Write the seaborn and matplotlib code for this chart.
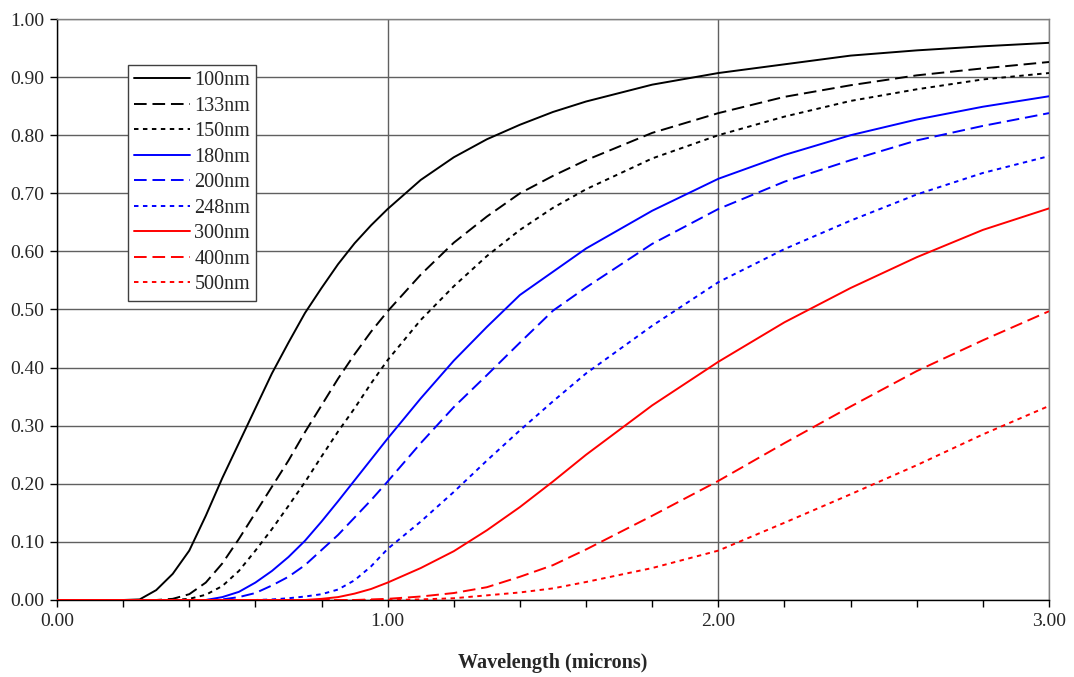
import numpy as np
import pandas as pd
import matplotlib
matplotlib.use("Agg")
import matplotlib.pyplot as plt
from matplotlib.ticker import MultipleLocator, FormatStrFormatter
import seaborn as sns

# wavelength (microns)
x = [0.0, 0.1, 0.2, 0.25, 0.3, 0.35, 0.4, 0.45, 0.5, 0.55, 0.6, 0.65, 0.7, 0.75, 0.8, 0.85, 0.9, 0.95, 1.0,
     1.1, 1.2, 1.3, 1.4, 1.5, 1.6, 1.8, 2.0, 2.2, 2.4, 2.6, 2.8, 3.0]

s100 = [0, 0, 0, 0.001, 0.017, 0.045, 0.085, 0.145, 0.21, 0.27, 0.33, 0.39, 0.443, 0.494, 0.537, 0.578, 0.614, 0.645, 0.673,
        0.723, 0.762, 0.793, 0.818, 0.84, 0.858, 0.887, 0.907, 0.922, 0.937, 0.946, 0.953, 0.959]
s133 = [0, 0, 0, 0, 0, 0.002, 0.01, 0.03, 0.063, 0.105, 0.15, 0.195, 0.24, 0.289, 0.335, 0.381, 0.423, 0.462, 0.497,
        0.56, 0.615, 0.66, 0.70, 0.73, 0.757, 0.804, 0.838, 0.866, 0.886, 0.903, 0.915, 0.926]
s150 = [0, 0, 0, 0, 0, 0, 0.002, 0.009, 0.024, 0.05, 0.085, 0.122, 0.162, 0.203, 0.247, 0.29, 0.33, 0.373, 0.413,
        0.482, 0.54, 0.592, 0.637, 0.675, 0.707, 0.76, 0.80, 0.832, 0.859, 0.879, 0.896, 0.907]
s180 = [0, 0, 0, 0, 0, 0, 0, 0, 0.005, 0.014, 0.03, 0.05, 0.074, 0.102, 0.135, 0.17, 0.206, 0.242, 0.278,
        0.347, 0.412, 0.47, 0.525, 0.565, 0.605, 0.67, 0.725, 0.766, 0.80, 0.827, 0.849, 0.867]
s200 = [0, 0, 0, 0, 0, 0, 0, 0, 0.001, 0.005, 0.012, 0.025, 0.04, 0.06, 0.086, 0.112, 0.142, 0.172, 0.204,
        0.27, 0.332, 0.387, 0.443, 0.498, 0.538, 0.613, 0.673, 0.72, 0.757, 0.791, 0.816, 0.838]
s248 = [0, 0, 0, 0, 0, 0, 0, 0, 0, 0, 0, 0.001, 0.003, 0.006, 0.01, 0.018, 0.034, 0.058, 0.088,
        0.135, 0.186, 0.24, 0.292, 0.342, 0.39, 0.472, 0.547, 0.604, 0.653, 0.698, 0.735, 0.764]
s300 = [0, 0, 0, 0, 0, 0, 0, 0, 0, 0, 0, 0, 0, 0, 0.002, 0.005, 0.011, 0.019, 0.03,
        0.055, 0.084, 0.12, 0.16, 0.204, 0.25, 0.335, 0.41, 0.478, 0.537, 0.59, 0.637, 0.674]
s400 = [0, 0, 0, 0, 0, 0, 0, 0, 0, 0, 0, 0, 0, 0, 0, 0, 0, 0.001, 0.002,
        0.006, 0.012, 0.022, 0.04, 0.06, 0.087, 0.145, 0.205, 0.27, 0.333, 0.394, 0.447, 0.497]
s500 = [0, 0, 0, 0, 0, 0, 0, 0, 0, 0, 0, 0, 0, 0, 0, 0, 0, 0, 0,
        0.001, 0.003, 0.008, 0.013, 0.02, 0.031, 0.055, 0.085, 0.133, 0.182, 0.232, 0.285, 0.334]

labels = ["100nm", "133nm", "150nm", "180nm", "200nm", "248nm", "300nm", "400nm", "500nm"]
series = [s100, s133, s150, s180, s200, s248, s300, s400, s500]
colors = ["black", "black", "black", "#0000ff", "#0000ff", "#0000ff", "#ff0000", "#ff0000", "#ff0000"]
styles = ["-", (0, (6.5, 3)), (0, (2.3, 2.3))] * 3

sns.set_theme(style="white")
plt.rcParams["font.family"] = ["Liberation Serif", "DejaVu Serif"]

fig = plt.figure(figsize=(10.74, 6.77), dpi=100)
ax = fig.add_axes([57 / 1074, 77 / 677, 992 / 1074, 581 / 677])

for lab, ys, c, ls in zip(labels, series, colors, styles):
    df = pd.DataFrame({"x": x, "y": ys})
    sns.lineplot(data=df, x="x", y="y", ax=ax, color=c, linestyle=ls, linewidth=1.4, label=lab,
                 zorder=3)

ax.set_xlim(0, 3)
ax.set_ylim(0, 1)
ax.xaxis.set_major_locator(MultipleLocator(1.0))
ax.xaxis.set_minor_locator(MultipleLocator(0.2))
ax.yaxis.set_major_locator(MultipleLocator(0.1))
ax.xaxis.set_major_formatter(FormatStrFormatter("%.2f"))
ax.yaxis.set_major_formatter(FormatStrFormatter("%.2f"))
ax.grid(True, which="major", axis="both", color="#606060", linewidth=1.0)
ax.set_axisbelow(True)
ax.tick_params(axis="both", which="major", direction="out", length=5, width=1, color="black",
               labelsize=14, pad=4, bottom=True, left=True)
ax.tick_params(axis="x", which="minor", direction="out", length=5, width=1, color="black", bottom=True)
for side in ["top", "right"]:
    ax.spines[side].set_color("#808080")
    ax.spines[side].set_linewidth(1.0)
for side in ["left", "bottom"]:
    ax.spines[side].set_color("black")
    ax.spines[side].set_linewidth(1.0)

ax.set_xlabel("Wavelength (microns)", fontsize=14.5, fontweight="bold", labelpad=17)
ax.set_ylabel("")

leg = ax.legend(loc="upper left", bbox_to_anchor=(71 / 992, (600 - 65) / 581), borderaxespad=0,
                fancybox=False, frameon=True, edgecolor="#404040", fontsize=14.5,
                handlelength=2.8, handletextpad=0.2, labelspacing=0.32, borderpad=0.3)
leg.get_frame().set_linewidth(1.0)
leg.get_frame().set_alpha(1)

fig.savefig("out.png", dpi=100)
